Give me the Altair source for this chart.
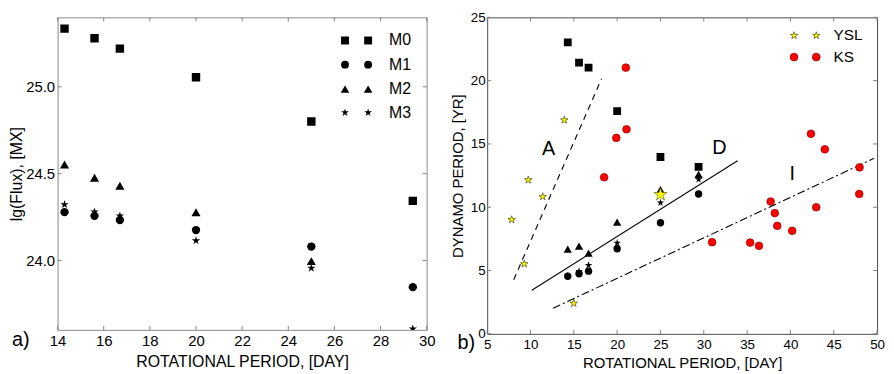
import altair as alt
import pandas as pd

FONT = "Liberation Sans"
STAR = ("M0,-1L0.2245,-0.309L0.951,-0.309L0.3633,0.118L0.5878,0.809L0,0.382"
        "L-0.5878,0.809L-0.3633,0.118L-0.951,-0.309L-0.2245,-0.309Z")

# ---------------- panel a) data ----------------
P_A = [14.3, 15.6, 16.7, 20.0, 25.0, 29.4]
M0_A = [25.335, 25.28, 25.22, 25.055, 24.80, 24.343]
M1_A = [24.278, 24.257, 24.233, 24.175, 24.08, 23.846]
P_M2_A = [14.3, 15.6, 16.7, 20.0, 25.0]
M2_A = [24.553, 24.476, 24.43, 24.278, 23.996]
M3_A = [24.322, 24.28, 24.257, 24.114, 23.956, 23.606]
XT_A = [14, 16, 18, 20, 22, 24, 26, 28, 30]
YT_A = [24.0, 24.5, 25.0]
NAMES_A = ["M0", "M1", "M2", "M3"]

# ---------------- panel b) data ----------------
P_B = [14.3, 15.6, 16.7, 20.0, 25.0, 29.4]
SQ_B = [23.03, 21.42, 21.03, 17.59, 13.97, 13.19]
CI_B = [4.55, 4.75, 4.95, 6.72, 8.78, 11.05]
TR_B = [6.69, 6.93, 6.37, 8.82, 11.4, 12.6]
ST_B = [4.6, 4.95, 5.42, 7.18, 10.36, 12.2]
YSL_P = [7.83, 9.28, 9.74, 11.41, 13.9, 15.0]
YSL_D = [9.02, 5.52, 12.16, 10.84, 16.89, 2.41]
SUN_P = [25.0]
SUN_D = [11.0]
KS_P = [18.5, 19.9, 21.0, 21.08, 30.96, 35.35, 36.37, 37.72, 38.2, 38.48,
        40.2, 42.37, 42.98, 43.97, 47.94, 47.98]
KS_D = [12.37, 15.48, 21.03, 16.16, 7.24, 7.21, 6.95, 10.45, 9.54, 8.53,
        8.14, 15.8, 10.0, 14.58, 11.05, 13.15]
LINE_A_X = [8.06, 18.2]
LINE_A_Y = [4.28, 20.15]
LINE_D_X = [10.15, 33.9]
LINE_D_Y = [3.45, 13.67]
LINE_I_X = [12.6, 49.66]
LINE_I_Y = [2.02, 13.87]
LBL_T = ["A", "D", "I"]
LBL_X = [12.1, 31.8, 40.2]
LBL_Y = [14.6, 14.7, 12.6]
XT_B = [5, 10, 15, 20, 25, 30, 35, 40, 45, 50]
YT_B = [0, 5, 10, 15, 20, 25]
NAMES_B = ["YSL", "KS"]

TICK = "#808080"
W1, H1 = 372, 315
W2, H2 = 393, 319


def df(x, y):
    return pd.DataFrame({"x": x, "y": y})


def frame_ticks(xvals, yvals, W, H, xe, ye):
    xt = alt.Chart(pd.DataFrame({"x": xvals}))
    yt = alt.Chart(pd.DataFrame({"y": yvals}))
    r = dict(color=TICK, strokeWidth=1)
    return [
        xt.mark_rule(**r).encode(x=xe, y=alt.value(H), y2=alt.value(H - 4)),
        xt.mark_rule(**r).encode(x=xe, y=alt.value(0), y2=alt.value(4)),
        yt.mark_rule(**r).encode(y=ye, x=alt.value(0), x2=alt.value(4)),
        yt.mark_rule(**r).encode(y=ye, x=alt.value(W), x2=alt.value(W - 4)),
    ]


def legend_row(name, shape, size, xs, y, xt, fs, fill, stroke, sw):
    d = alt.Chart(pd.DataFrame({"t": [name]}))
    out = []
    for xx in xs:
        out.append(d.mark_point(shape=shape, size=size, filled=True, fill=fill,
                                stroke=stroke, strokeWidth=sw, opacity=1)
                   .encode(x=alt.value(xx), y=alt.value(y)))
    out.append(d.mark_text(align="left", baseline="middle", fontSize=fs,
                           color="black")
               .encode(x=alt.value(xt), y=alt.value(y), text="t:N"))
    return out


def pts(x, y, shape, size, xe, ye, fill="black", stroke="black", sw=0):
    return (alt.Chart(df(x, y))
            .mark_point(shape=shape, size=size, filled=True, fill=fill,
                        stroke=stroke, strokeWidth=sw, opacity=1, clip=True)
            .encode(x=xe, y=ye))


# ---------------- panel a) ----------------
xa = alt.X("x:Q", scale=alt.Scale(domain=[14, 30], nice=False, zero=False),
           axis=alt.Axis(values=XT_A, title="ROTATIONAL PERIOD, [DAY]",
                         ticks=False, domain=False, grid=False, labelFlush=False,
                         labelOverlap=False, labelFontSize=15, labelPadding=4,
                         titleFontSize=16, titlePadding=5, format="d"))
ya = alt.Y("y:Q", scale=alt.Scale(domain=[23.6, 25.4], nice=False, zero=False),
           axis=alt.Axis(values=YT_A, title="lg(Flux), [MX]", ticks=False,
                         domain=False, grid=False, labelOverlap=False,
                         labelFontSize=15, labelPadding=3, titleFontSize=16,
                         titlePadding=1, format=".1f"))

layers_a = [
    pts(P_A, M0_A, "square", 72, xa, ya),
    pts(P_A, M1_A, "circle", 70, xa, ya),
    pts(P_M2_A, M2_A, "triangle-up", 85, xa, ya),
    pts(P_A, M3_A, STAR, 80, xa, ya),
]
layers_a += frame_ticks(XT_A, YT_A, W1, H1, xa, ya)
shapes_a = ["square", "circle", "triangle-up", STAR]
sizes_a = [64, 62, 75, 70]
rows_a = [23.3, 47.7, 72.3, 96]
for n, s, sz, yy in zip(NAMES_A, shapes_a, sizes_a, rows_a):
    layers_a += legend_row(n, s, sz, [289.7, 313], yy, 334, 16, "black", "black", 0)
layers_a.append(alt.Chart(pd.DataFrame({"t": ["a)"]}))
                .mark_text(fontSize=20, align="center", baseline="middle", color="black")
                .encode(x=alt.value(-37), y=alt.value(H1 + 10), text="t:N"))

left = alt.layer(*layers_a).properties(
    width=W1, height=H1, view=alt.ViewBackground(stroke="#8a8a8a", strokeWidth=1))

# ---------------- panel b) ----------------
xb = alt.X("x:Q", scale=alt.Scale(domain=[5, 50], nice=False, zero=False),
           axis=alt.Axis(values=XT_B, title="ROTATIONAL PERIOD, [DAY]",
                         ticks=False, domain=False, grid=False, labelFlush=False,
                         labelOverlap=False, labelFontSize=13.5, labelPadding=4,
                         titleFontSize=15, titlePadding=4, format="d"))
yb = alt.Y("y:Q", scale=alt.Scale(domain=[0, 25], nice=False, zero=False),
           axis=alt.Axis(values=YT_B, title="DYNAMO PERIOD, [YR]", ticks=False,
                         domain=False, grid=False, labelOverlap=False,
                         labelFontSize=13.5, labelPadding=2, titleFontSize=15,
                         titlePadding=5, format="d"))


def line(x, y, dash):
    kw = dict(color="black", strokeWidth=1.1)
    if dash:
        kw["strokeDash"] = dash
    return alt.Chart(df(x, y)).mark_line(**kw).encode(x=xb, y=yb)


layers_b = [
    line(LINE_A_X, LINE_A_Y, [6, 5]),
    line(LINE_D_X, LINE_D_Y, None),
    line(LINE_I_X, LINE_I_Y, [8, 3, 2, 3]),
    pts(P_B, SQ_B, "square", 62, xb, yb),
    pts(P_B, CI_B, "circle", 55, xb, yb),
    pts(P_B, TR_B, "triangle-up", 70, xb, yb),
    pts(P_B, ST_B, STAR, 64, xb, yb),
    pts(SUN_P, SUN_D, STAR, 190, xb, yb, fill="#ffff00", stroke="#555500", sw=0.6),
    pts(YSL_P, YSL_D, STAR, 64, xb, yb, fill="#ffff00", stroke="#333300", sw=0.6),
    pts(KS_P, KS_D, "circle", 60, xb, yb, fill="#ff0000", stroke="#8b0000", sw=0.7),
    alt.Chart(pd.DataFrame({"x": LBL_X, "y": LBL_Y, "t": LBL_T}))
    .mark_text(fontSize=20, align="center", baseline="middle", color="black")
    .encode(x=xb, y=yb, text="t:N"),
]
layers_b += frame_ticks(XT_B, YT_B, W2, H2, xb, yb)
layers_b += legend_row("YSL", STAR, 60, [309.3, 331.7], 18.3, 349, 15.5,
                       "#ffff00", "#333300", 0.6)
layers_b += legend_row("KS", "circle", 62, [309.3, 331.7], 40, 349, 15.5,
                       "#ff0000", "#8b0000", 0.7)
layers_b.append(alt.Chart(pd.DataFrame({"t": ["b)"]}))
                .mark_text(fontSize=20, align="center", baseline="middle", color="black")
                .encode(x=alt.value(-21), y=alt.value(H2 + 9), text="t:N"))

right = alt.layer(*layers_b).properties(
    width=W2, height=H2, view=alt.ViewBackground(stroke="#4a4a4a", strokeWidth=1))

chart = (alt.hconcat(left, right, spacing=61, bounds="flush")
         .properties(padding={"left": 0, "top": 0, "right": 0, "bottom": 0},
                     background="white")
         .configure_axis(labelFont=FONT, titleFont=FONT, labelColor="black",
                         titleColor="black", titleFontWeight="normal")
         .configure_text(font=FONT))

chart.save("out.html", embed_options={"renderer": "svg", "actions": False})
